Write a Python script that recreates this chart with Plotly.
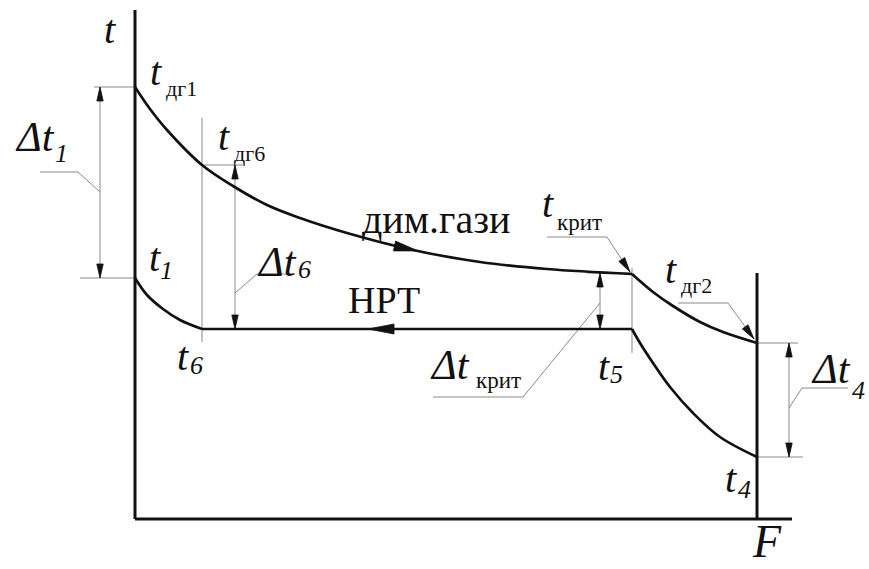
import numpy as np
import plotly.graph_objects as go

# ---------------- data (schematic: F = heating surface, t = temperature) ----------------
# flue gases, from inlet to the critical point
gas_F1 = [0, 15, 32, 67, 98, 132, 165, 212, 278, 345, 412, 497]
gas_t1 = [432, 410, 389, 354, 333, 314, 301, 286, 269, 257, 250, 245]
# flue gases after the critical point
gas_F2 = [497, 518, 538, 565, 588, 622]
gas_t2 = [245, 227, 213, 197, 187, 176]
# heat-transfer medium (НРТ)
water_F1 = [0, 12, 28, 45, 67]
water_t1 = [241, 224, 210, 199, 190]
water_F2 = [67, 497]
water_t2 = [190, 190]
water_F3 = [497, 505, 518, 535, 558, 585, 622]
water_t3 = [190, 176, 156, 132, 106, 82, 62]

# characteristic points
F_6, F_crit, F_end = 67, 497, 622
t_dg1, t_1, t_dg6, t_6 = 432, 241, 354, 190
t_crit, t_5, t_dg2, t_4 = 245, 190, 176, 62

# ---------------- layout helpers (1 data unit == 1 px) ----------------
W, H = 869, 569
X0, Y0 = 135, 519          # pixel position of the origin


def fx(px):
    return px - X0


def ty(py):
    return Y0 - py


BLACK = "#111111"
GRAY = "#8a8a8a"
FONT = "Liberation Serif"

fig = go.Figure()


def line(xs, ys, color=BLACK, width=2.7, shape="linear"):
    fig.add_trace(go.Scatter(x=xs, y=ys, mode="lines", hoverinfo="skip",
                             line=dict(color=color, width=width, shape=shape,
                                       smoothing=1.0)))


def head(tipx, tipy, dx, dy, L=14, Wd=3.2):
    n = np.hypot(dx, dy)
    ux, uy = dx / n, dy / n
    bx, by = tipx - L * ux, tipy - L * uy
    px_, py_ = -uy, ux
    xs = [tipx, bx + Wd * px_, bx - Wd * px_, tipx]
    ys = [tipy, by + Wd * py_, by - Wd * py_, tipy]
    fig.add_trace(go.Scatter(x=xs, y=ys, mode="lines", fill="toself",
                             fillcolor=BLACK, hoverinfo="skip",
                             line=dict(color=BLACK, width=0.8)))


def dimension(F, ta, tb):
    line([F, F], [ta, tb], GRAY, 1)
    head(F, ta, 0, ta - tb)
    head(F, tb, 0, tb - ta)


# ---------------- thin construction lines ----------------
line([fx(94), 0], [t_dg1, t_dg1], GRAY, 1)
line([fx(80), 0], [t_1, t_1], GRAY, 1)
line([F_6, F_6], [ty(342), ty(118)], GRAY, 1)
line([F_6, fx(245)], [t_dg6, t_dg6], GRAY, 1)
line([F_crit, F_crit], [ty(353), ty(268)], GRAY, 1)
line([fx(587), F_crit], [t_crit + 1, t_crit + 1], GRAY, 1)
line([F_end, fx(798)], [t_dg2, t_dg2], GRAY, 1)
line([F_end, fx(803)], [t_4, t_4], GRAY, 1)

# dimension arrows
dimension(fx(100), t_dg1, t_1)
dimension(fx(235), t_dg6, t_6)
dimension(fx(600), t_crit + 1, t_5)
dimension(fx(789), t_dg2, t_4)

# leaders
line([fx(100), fx(78), fx(40)], [ty(192), ty(172), ty(172)], GRAY, 1)
line([fx(235), fx(257), fx(295)], [ty(293), ty(274), ty(274)], GRAY, 1)
line([fx(600), fx(523), fx(433)], [ty(303), ty(397), ty(397)], GRAY, 1)
line([fx(789), fx(802), fx(848)], [ty(408), ty(388), ty(388)], GRAY, 1)
# leaders with arrows
lx = [fx(547), fx(607), F_crit - 2]
ly = [ty(237), ty(237), t_crit + 2]
line(lx, ly, GRAY, 1)
head(lx[2], ly[2], lx[2] - lx[1], ly[2] - ly[1], L=15, Wd=3.5)
lx = [fx(678), fx(728), F_end - 3]
ly = [ty(303), ty(303), t_dg2 + 4]
line(lx, ly, GRAY, 1)
head(lx[2], ly[2], lx[2] - lx[1], ly[2] - ly[1], L=15, Wd=3.5)

# ---------------- axes ----------------
line([0, 0], [0, ty(10)], BLACK, 3)
line([0, fx(792)], [0, 0], BLACK, 3)
line([F_end, F_end], [0, ty(273)], BLACK, 3)

# ---------------- curves ----------------
line(gas_F1, gas_t1, shape="spline")
line(gas_F2, gas_t2, shape="spline")
line(water_F1, water_t1, shape="spline")
line(water_F2, water_t2)
line(water_F3, water_t3, shape="spline")

# flow direction arrows
aF = fx(418)
at = float(np.interp(aF, gas_F1, gas_t1))
slope = (np.interp(aF + 20, gas_F1, gas_t1) - np.interp(aF - 20, gas_F1, gas_t1)) / 40
head(aF, at, 1, slope, L=24, Wd=5)
head(fx(368), t_6, -1, 0, L=26, Wd=5)

# ---------------- labels ----------------
labels = [
    ("<i>t</i>", 110, 29, 40),
    ("<i>t</i>", 156, 71, 40), ("дг1", 181, 88, 22),
    ("<i>t</i>", 224, 136, 40), ("дг6", 249, 153, 22),
    ("<i>Δt</i>", 35, 137, 42), ("<i>1</i>", 61, 153, 26),
    ("<i>Δt</i>", 277, 262, 42), ("<i>6</i>", 304, 269, 26),
    ("<i>t</i>", 155, 257, 40), ("<i>1</i>", 166, 270, 26),
    ("<i>t</i>", 183, 356, 40), ("<i>6</i>", 196, 365, 26),
    ("<i>t</i>", 604, 366, 40), ("<i>5</i>", 616, 374, 26),
    ("<i>Δt</i>", 450, 365, 42), ("крит", 498, 380, 23),
    ("<i>t</i>", 548, 203, 40), ("крит", 579, 222, 23),
    ("<i>t</i>", 671, 269, 40), ("дг2", 696, 285, 22),
    ("<i>t</i>", 731, 478, 40), ("<i>4</i>", 744, 489, 26),
    ("<i>Δt</i>", 831, 369, 42), ("<i>4</i>", 858, 390, 26),
    ("дим.гази", 436, 219, 40),
    ("НРТ", 384, 300, 38),
]
for txt, px, py, size in labels:
    fig.add_annotation(x=fx(px), y=ty(py), text=txt, showarrow=False,
                       xanchor="center", yanchor="middle",
                       font=dict(family=FONT, size=size, color=BLACK))
# axis name F at the bottom edge
fig.add_annotation(x=fx(767), y=ty(H), text="<i>F</i>", showarrow=False,
                   xanchor="center", yanchor="bottom",
                   font=dict(family=FONT, size=46, color=BLACK))

fig.update_layout(
    width=W, height=H, margin=dict(l=0, r=0, t=0, b=0),
    paper_bgcolor="white", plot_bgcolor="white", showlegend=False,
    font=dict(family=FONT),
    xaxis=dict(range=[fx(0), fx(W)], visible=False, fixedrange=True),
    yaxis=dict(range=[ty(H), ty(0)], visible=False, fixedrange=True),
)

fig.write_html("out.html", config={"displayModeBar": False},
               post_script="document.body.style.margin='0';")
